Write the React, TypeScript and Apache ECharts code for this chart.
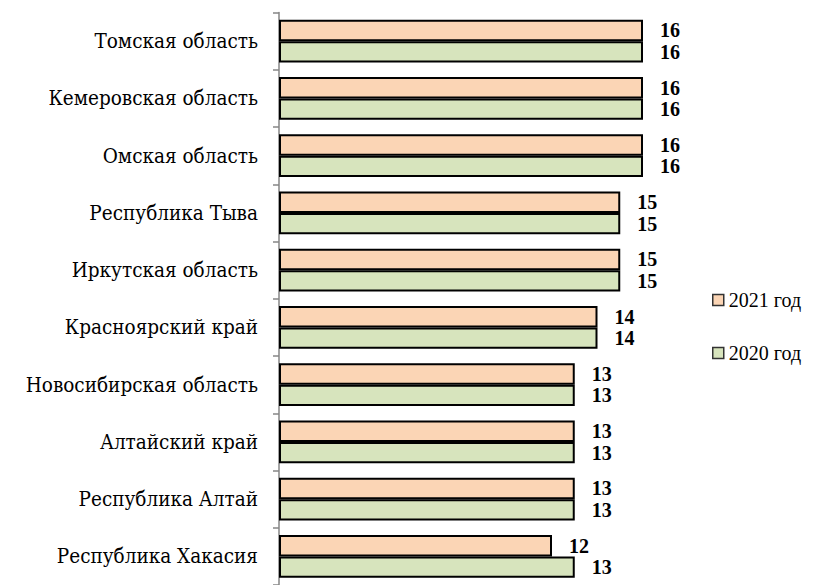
import React, { useEffect, useRef } from "react";
import * as echarts from "echarts";

const categories = [
  "Томская область",
  "Кемеровская область",
  "Омская область",
  "Республика Тыва",
  "Иркутская область",
  "Красноярский край",
  "Новосибирская область",
  "Алтайский край",
  "Республика Алтай",
  "Республика Хакасия",
];
const values2021 = [16, 16, 16, 15, 15, 14, 13, 13, 13, 12];
const values2020 = [16, 16, 16, 15, 15, 14, 13, 13, 13, 13];
const seriesNames = ["2021 год", "2020 год"];

const FONT = "Liberation Serif, DejaVu Serif";
const CAT_FONT = "DejaVu Serif Condensed";
const LEG_FONT = "Liberation Serif, DejaVu Serif Condensed";

export default function App() {
  const ref = useRef<HTMLDivElement>(null);
  useEffect(() => {
    if (!ref.current) return;
    const chart = echarts.init(ref.current, undefined, { renderer: "svg" });
    const label = {
      show: true,
      position: "right" as const,
      distance: 17,
      color: "#000",
      fontFamily: FONT,
      fontWeight: "bold" as const,
      fontSize: 20,
      lineHeight: 20,
    };
    chart.setOption({
      animation: false,
      backgroundColor: "#fff",
      grid: { left: 279, top: 12.5, width: 409.5, height: 576 },
      xAxis: {
        type: "value",
        min: 0,
        max: 18,
        show: false,
      },
      yAxis: {
        type: "category",
        data: categories,
        inverse: true,
        axisLine: { show: true, lineStyle: { color: "#868686", width: 1.5 } },
        axisTick: { show: true, length: 6, lineStyle: { color: "#868686", width: 1.5 } },
        axisLabel: {
          color: "#000",
          fontFamily: CAT_FONT,
          fontSize: 20.5,
          margin: 21,
        },
        splitLine: { show: false },
      },
      legend: {
        orient: "vertical",
        left: 707,
        top: 285,
        itemGap: 33,
        itemWidth: 11,
        itemHeight: 11,
        textStyle: { color: "#000", fontFamily: LEG_FONT, fontSize: 20 },
        data: seriesNames,
        icon: "rect",
        itemStyle: { borderColor: "#333", borderWidth: 1.5 },
      },
      series: [
        {
          name: seriesNames[0],
          type: "bar",
          data: values2021,
          barGap: "0%",
          barCategoryGap: "25%",
          itemStyle: { color: "#FBD5B5", borderColor: "#000", borderWidth: 2 },
          label,
        },
        {
          name: seriesNames[1],
          type: "bar",
          data: values2020,
          barGap: "0%",
          barCategoryGap: "25%",
          itemStyle: { color: "#D7E4BD", borderColor: "#000", borderWidth: 2 },
          label,
        },
      ],
    });
    return () => chart.dispose();
  }, []);
  return (
    <div
      ref={ref}
      style={{ position: "fixed", left: 0, top: 0, width: 832, height: 585 }}
    />
  );
}
